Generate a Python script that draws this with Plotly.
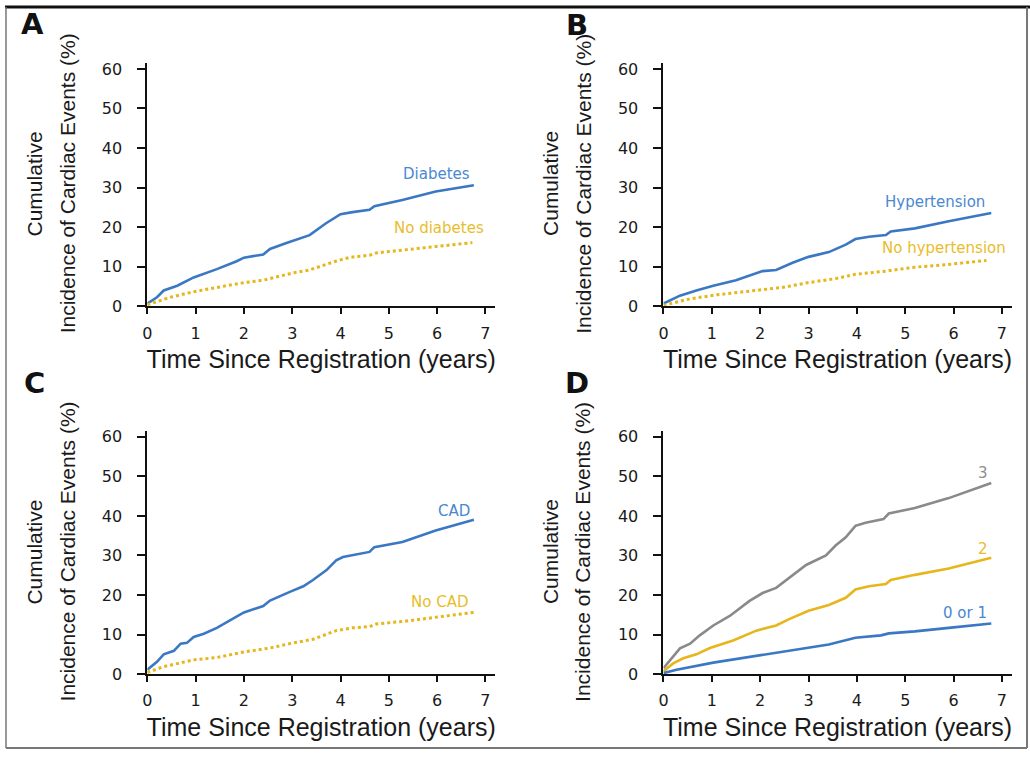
import plotly.graph_objects as go

# ---------------- data ----------------
# Panel A
t_diab = [0, 0.2, 0.34, 0.62, 0.96, 1.44, 1.85, 2.0, 2.4, 2.54, 2.88, 3.36, 3.7, 3.9, 4.0, 4.25, 4.6, 4.7, 5.28, 5.97, 6.76]
y_diab = [0.7, 2.3, 4.0, 5.2, 7.3, 9.4, 11.4, 12.3, 13.1, 14.5, 16.0, 18.0, 21.0, 22.6, 23.3, 23.8, 24.4, 25.3, 26.9, 29.0, 30.6]
t_nodiab = [0, 0.48, 0.96, 1.44, 2.0, 2.4, 3.0, 3.36, 3.9, 4.2, 4.6, 4.74, 5.28, 5.97, 6.73]
y_nodiab = [0.4, 2.3, 3.7, 4.8, 6.0, 6.6, 8.4, 9.2, 11.4, 12.4, 12.9, 13.5, 14.2, 15.1, 16.1]

# Panel B
t_htn = [0, 0.34, 0.68, 1.03, 1.5, 2.05, 2.33, 2.67, 3.0, 3.42, 3.77, 3.97, 4.25, 4.6, 4.7, 5.2, 5.9, 6.78]
y_htn = [0.7, 2.7, 4.0, 5.2, 6.6, 8.9, 9.2, 11.0, 12.5, 13.7, 15.6, 17.0, 17.6, 18.0, 18.9, 19.7, 21.5, 23.6]
t_nohtn = [0, 0.55, 1.1, 1.99, 2.47, 3.0, 3.56, 3.97, 4.6, 5.2, 5.9, 6.68]
y_nohtn = [0.25, 1.9, 2.9, 4.1, 4.8, 6.0, 7.0, 8.1, 8.9, 9.9, 10.6, 11.6]

# Panel C
t_cad = [0, 0.2, 0.34, 0.55, 0.69, 0.82, 0.96, 1.17, 1.44, 1.85, 2.0, 2.4, 2.54, 2.95, 3.23, 3.43, 3.71, 3.91, 4.05, 4.6, 4.7, 5.28, 5.97, 6.76]
y_cad = [1.1, 3.1, 5.0, 5.9, 7.7, 7.9, 9.4, 10.2, 11.7, 14.7, 15.6, 17.2, 18.6, 20.8, 22.2, 23.8, 26.3, 28.8, 29.6, 30.9, 32.1, 33.4, 36.3, 39.0]
t_nocad = [0, 0.34, 0.96, 1.44, 2.0, 2.54, 3.02, 3.43, 3.91, 4.25, 4.6, 4.74, 5.28, 5.97, 6.76]
y_nocad = [0.4, 1.9, 3.6, 4.2, 5.6, 6.6, 7.9, 8.8, 11.0, 11.7, 12.0, 12.7, 13.3, 14.3, 15.6]

# Panel D
t_r3 = [0, 0.14, 0.34, 0.55, 0.75, 1.03, 1.37, 1.78, 2.05, 2.33, 2.6, 2.95, 3.36, 3.56, 3.77, 3.97, 4.18, 4.55, 4.66, 5.2, 5.9, 6.78]
y_r3 = [1.5, 3.6, 6.5, 7.7, 9.8, 12.3, 14.7, 18.5, 20.5, 21.8, 24.3, 27.6, 30.0, 32.5, 34.6, 37.5, 38.3, 39.2, 40.6, 42.0, 44.5, 48.3]
t_r2 = [0, 0.2, 0.41, 0.68, 0.96, 1.44, 1.92, 2.33, 2.6, 3.0, 3.42, 3.77, 3.97, 4.25, 4.6, 4.7, 5.2, 5.9, 6.78]
y_r2 = [0.7, 2.7, 4.0, 5.0, 6.6, 8.5, 11.0, 12.3, 13.9, 16.0, 17.5, 19.3, 21.4, 22.2, 22.8, 23.8, 25.1, 26.7, 29.4]
t_r01 = [0, 0.27, 1.03, 2.0, 2.4, 3.0, 3.42, 3.97, 4.5, 4.66, 5.2, 5.9, 6.78]
y_r01 = [0.25, 1.1, 2.9, 4.8, 5.4, 6.7, 7.5, 9.2, 9.8, 10.3, 10.8, 11.7, 12.8]

x_ticks = [0, 1, 2, 3, 4, 5, 6, 7]
y_ticks = [0, 10, 20, 30, 40, 50, 60]
panel_letters = ["A", "B", "C", "D"]
x_title = "Time Since Registration (years)"
y_title_lines = ["Cumulative", "Incidence of Cardiac Events (%)"]

# ---------------- styling ----------------
W, H = 1030, 760
BLUE = "#3b78c4"
YELLOW = "#e6b61c"
GRAY = "#8a8a8a"
BLUE_TXT = "#4a88cf"
YELLOW_TXT = "#e8bd2a"
GRAY_TXT = "#8f8f8f"
SANS = "Liberation Sans, Arial, Helvetica, sans-serif"
WIDE = "DejaVu Sans, Verdana, sans-serif"


def px(x):
    return x / W


def py(y):
    return 1 - y / H


fig = go.Figure()

series = [
    (1, t_diab, y_diab, BLUE, "solid", "Diabetes"),
    (1, t_nodiab, y_nodiab, YELLOW, "dot", "No diabetes"),
    (2, t_htn, y_htn, BLUE, "solid", "Hypertension"),
    (2, t_nohtn, y_nohtn, YELLOW, "dot", "No hypertension"),
    (3, t_cad, y_cad, BLUE, "solid", "CAD"),
    (3, t_nocad, y_nocad, YELLOW, "dot", "No CAD"),
    (4, t_r3, y_r3, GRAY, "solid", "3"),
    (4, t_r2, y_r2, YELLOW, "solid", "2"),
    (4, t_r01, y_r01, BLUE, "solid", "0 or 1"),
]
for k, xs, ys, col, dash, name in series:
    sfx = "" if k == 1 else str(k)
    fig.add_trace(go.Scatter(
        x=xs, y=ys, mode="lines", name=name,
        line=dict(color=col, width=3 if dash == "dot" else 2.6, dash=dash),
        xaxis="x" + sfx, yaxis="y" + sfx, showlegend=False,
    ))

x_dom_left = [px(143), px(492.5)]
x_dom_right = [px(661.7), px(1011.5)]
y_dom_top = [py(308), py(60.5)]
y_dom_bot = [py(682.7), py(435.3)]

domains = {
    1: (x_dom_left, y_dom_top),
    2: (x_dom_right, y_dom_top),
    3: (x_dom_left, y_dom_bot),
    4: (x_dom_right, y_dom_bot),
}

layout = dict(
    width=W, height=H,
    margin=dict(l=0, r=0, t=0, b=0),
    paper_bgcolor="white", plot_bgcolor="white",
)
for k, (xd, yd) in domains.items():
    sfx = "" if k == 1 else str(k)
    layout["xaxis" + sfx] = dict(
        domain=xd, range=[0, 7.2], anchor="y" + sfx,
        tickvals=x_ticks, ticktext=[str(v) for v in x_ticks],
        showline=True, linecolor="#111", linewidth=2,
        ticks="outside", ticklen=6, tickwidth=2, tickcolor="#111",
        ticklabelstandoff=5,
        showgrid=False, zeroline=False,
        tickfont=dict(family=WIDE, size=16, color="#1a1a1a"),
        title=dict(text=x_title, font=dict(family=SANS, size=25, color="#1a1a1a"), standoff=9),
        fixedrange=True,
    )
    layout["yaxis" + sfx] = dict(
        domain=yd, range=[0, 61.4], anchor="x" + sfx,
        tickvals=y_ticks, ticktext=[str(v) for v in y_ticks],
        showline=True, linecolor="#111", linewidth=2,
        ticks="outside", ticklen=8, tickwidth=2, tickcolor="#111",
        ticklabelstandoff=12,
        showgrid=False, zeroline=False,
        tickfont=dict(family=WIDE, size=16, color="#1a1a1a"),
        fixedrange=True,
    )

fig.update_layout(**layout)

# y-axis titles (two rotated lines per panel)
ytitle_x = [(30, 63), (548, 581), (30, 63), (548, 581)]
ytitle_y = [183, 183, 558, 558]
for (x1, x2), yc in zip(ytitle_x, ytitle_y):
    for txt, xx in zip(y_title_lines, (x1, x2)):
        fig.add_annotation(x=px(xx), y=py(yc), xref="paper", yref="paper",
                           text=txt, showarrow=False, textangle=-90,
                           font=dict(family=SANS, size=21, color="#1a1a1a"),
                           xanchor="center", yanchor="middle")

# panel letters
letter_pos = [(28, 20), (575, 21), (30, 386), (575, 386)]
for letter, (lx, ly) in zip(panel_letters, letter_pos):
    fig.add_annotation(x=px(lx), y=py(ly), xref="paper", yref="paper",
                       text="<b>" + letter + "</b>", showarrow=False,
                       font=dict(family="DejaVu Sans, Arial Black, sans-serif", size=29, color="#111"),
                       xanchor="center", yanchor="middle")

# curve labels
curve_labels = [
    ("Diabetes", 434, 173, BLUE_TXT),
    ("No diabetes", 436, 228, YELLOW_TXT),
    ("Hypertension", 935, 202, BLUE_TXT),
    ("No hypertension", 944, 249, YELLOW_TXT),
    ("CAD", 451, 517, BLUE_TXT),
    ("No CAD", 437, 609, YELLOW_TXT),
    ("3", 983, 478, GRAY_TXT),
    ("2", 983, 555, YELLOW_TXT),
    ("0 or 1", 965, 620, BLUE_TXT),
]
for txt, lx, ly, col in curve_labels:
    fig.add_annotation(x=px(lx), y=py(ly), xref="paper", yref="paper",
                       text=txt, showarrow=False,
                       font=dict(family=WIDE, size=15, color=col),
                       xanchor="center", yanchor="middle")

# outer frame
fig.add_shape(type="line", xref="paper", yref="paper", x0=0, x1=1, y0=py(3), y1=py(3),
              line=dict(color="#111", width=3))
fig.add_shape(type="line", xref="paper", yref="paper", x0=px(1), x1=px(1), y0=py(3), y1=py(758),
              line=dict(color="#777", width=1.5))
fig.add_shape(type="line", xref="paper", yref="paper", x0=px(1027), x1=px(1027), y0=py(3), y1=py(758),
              line=dict(color="#777", width=2))
fig.add_shape(type="line", xref="paper", yref="paper", x0=px(1), x1=px(1027), y0=py(758), y1=py(758),
              line=dict(color="#777", width=2))

fig.write_html("out.html")
